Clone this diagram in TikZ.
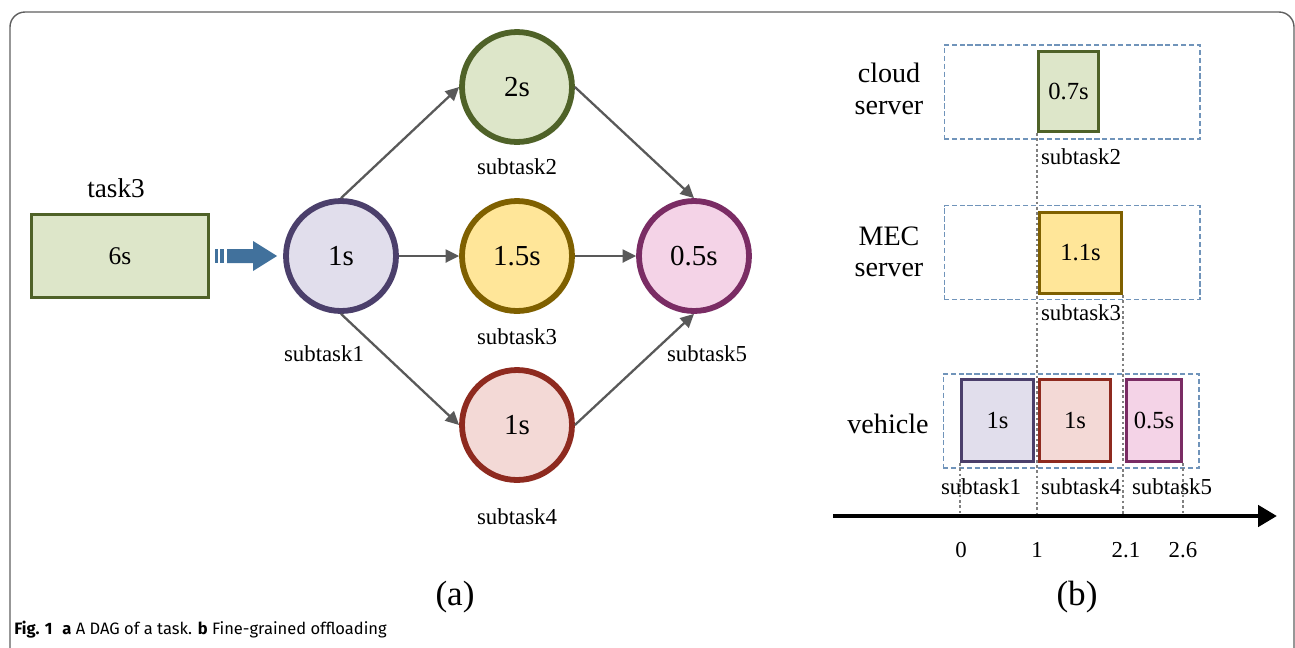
\documentclass[tikz,border=0pt]{standalone}
\usepackage{fontspec}
\setmainfont{Liberation Serif}
\newfontfamily\capfont{Fira Sans}
\usetikzlibrary{arrows.meta,positioning,calc}
\definecolor{olivedk}{HTML}{4F6228}
\definecolor{olivelt}{HTML}{DDE6C9}
\definecolor{purpdk}{HTML}{4B3F6B}
\definecolor{purplt}{HTML}{E1DEEC}
\definecolor{golddk}{HTML}{7F6000}
\definecolor{goldlt}{HTML}{FFE699}
\definecolor{reddk}{HTML}{8E2A1F}
\definecolor{redlt}{HTML}{F3D9D6}
\definecolor{pinkdk}{HTML}{7A2C64}
\definecolor{pinklt}{HTML}{F4D3E7}
\definecolor{edgegray}{HTML}{595959}
\definecolor{flowblue}{HTML}{41719C}
\definecolor{lanedash}{HTML}{7094BA}
\definecolor{framegray}{HTML}{5F5F5F}

\begin{document}
\begin{tikzpicture}[x=0.02cm, y=-0.02cm, >={Triangle[length=2.7mm,width=2.6mm]},
    sub-node/.style={circle, line width=3.3pt, minimum size=2.2cm, inner sep=0pt, font=\fontsize{16.5}{18}\selectfont},
    slot-node/.style={rectangle, line width=1.8pt, minimum height=1.62cm, inner sep=0pt, font=\fontsize{14}{16}\selectfont},
    lane-node/.style={rectangle, draw=lanedash, line width=0.6pt, dash pattern=on 3pt off 1.5pt, minimum width=5.12cm, minimum height=1.88cm, inner sep=0pt},
    name-text/.style={font=\fontsize{13}{15}\selectfont, inner sep=1pt},
    row-text/.style={font=\fontsize{16}{18}\selectfont, align=center},
    edge/.style={->, draw=edgegray, line width=1.3pt},
    guide/.style={draw=gray, line width=0.9pt, dash pattern=on 1.5pt off 1.5pt}]
    \useasboundingbox (0,0) rectangle (1295,647);
    \draw[framegray, line width=0.8pt, rounded corners=0.3cm] (10,700) -- (10,12) -- (1294,12) -- (1294,700);

    % (a) the DAG
    \node[rectangle, draw=olivedk, fill=olivelt, line width=1.8pt, minimum width=3.54cm, minimum height=1.66cm, font=\fontsize{14.5}{16}\selectfont] (task) at (120,256) {6s};
    \node[font=\fontsize{15.5}{17}\selectfont] (tasklbl) at (116,188) {task3};
    \node[sub-node, draw=purpdk, fill=purplt] (sub1) at (341,256) {1s};
    \node[sub-node, draw=olivedk, fill=olivelt] (sub2) at (517,87) {2s};
    \node[sub-node, draw=golddk, fill=goldlt] (sub3) at (517,256) {1.5s};
    \node[sub-node, draw=reddk, fill=redlt] (sub4) at (517,425) {1s};
    \node[sub-node, draw=pinkdk, fill=pinklt] (sub5) at (694,256) {0.5s};
    \node[name-text] (sub1lbl) at (324,354) {subtask1};
    \node[name-text] (sub2lbl) at (517,167) {subtask2};
    \node[name-text] (sub3lbl) at (517,337) {subtask3};
    \node[name-text] (sub4lbl) at (517,517) {subtask4};
    \node[name-text] (sub5lbl) at (707,354) {subtask5};
    % block arrow into subtask1
    \fill[flowblue] ($(task.east)+(5,-7)$) rectangle ++(3,14);
    \fill[flowblue] ($(task.east)+(10,-7)$) rectangle ++(4,14);
    \fill[flowblue] ($(task.east)+(17,-7)$) -- ++(26,0) -- ++(0,-8) -- ++(24,15) -- ++(-24,15) -- ++(0,-8) -- ++(-26,0) -- cycle;
    \draw[edge] (sub1.north) -- (sub2.west);
    \draw[edge] (sub1) -- (sub3);
    \draw[edge] (sub1.south) -- (sub4.west);
    \draw[edge] (sub2.east) -- (sub5.north);
    \draw[edge] (sub3) -- (sub5);
    \draw[edge] (sub4.east) -- (sub5.south);
    \node[font=\fontsize{20}{22}\selectfont] (capa) at (455,597) {(a)};

    % (b) offloading schedule
    \node[lane-node] (cloudlane) at (1072,92) {};
    \node[lane-node] (meclane) at (1072,252.5) {};
    \node[lane-node] (vehlane) at (1071,421) {};
    \node[row-text] (cloudlbl) at (889,89) {cloud\\server};
    \node[row-text] (meclbl) at (889,252) {MEC\\server};
    \node[row-text] (vehlbl) at (888,424) {vehicle};
    \coordinate (axis-start) at (833,516);
    \coordinate (axis-end) at (1277,516);
    \node[slot-node, draw=olivedk, fill=olivelt, minimum width=1.2cm, minimum height=1.6cm] (cloud2) at (1068.5,91.5) {0.7s};
    \node[slot-node, draw=golddk, fill=goldlt, minimum width=1.64cm] (mec3) at (1080.5,253) {1.1s};
    \node[slot-node, draw=purpdk, fill=purplt, minimum width=1.44cm, minimum height=1.64cm] (veh1) at (997.5,420.5) {1s};
    \node[slot-node, draw=reddk, fill=redlt, minimum width=1.42cm, minimum height=1.64cm] (veh4) at (1075,420.5) {1s};
    \node[slot-node, draw=pinkdk, fill=pinklt, minimum width=1.1cm, minimum height=1.64cm] (veh5) at (1154,420.5) {0.5s};
    \draw[guide] (cloud2.south west) -- (cloud2.south west |- axis-start);
    \draw[guide] (mec3.south east) -- (mec3.south east |- axis-start);
    \draw[guide] (veh1.south west) -- (veh1.south west |- axis-start);
    \draw[guide] (veh5.south east) -- (veh5.south east |- axis-start);
    \node[name-text] (cloud2lbl) at (1081,157) {subtask2};
    \node[name-text] (mec3lbl) at (1081,313) {subtask3};
    \node[name-text] (veh1lbl) at (981,487) {subtask1};
    \node[name-text] (veh4lbl) at (1081,487) {subtask4};
    \node[name-text] (veh5lbl) at (1172,487) {subtask5};
    \draw[line width=2.8pt, -{Triangle[length=0.38cm,width=0.42cm]}] (axis-start) -- (axis-end);
    \node[name-text] (tick0) at (961,550) {0};
    \node[name-text] (tick1) at (1037,550) {1};
    \node[name-text] (tick2) at (1126,550) {2.1};
    \node[name-text] (tick3) at (1183,550) {2.6};
    \node[font=\fontsize{20}{22}\selectfont] (capb) at (1077,597) {(b)};

    \node[anchor=base west, inner sep=0pt, font=\capfont\fontsize{9.4}{11}\selectfont] (caption) at (14,634) {\textbf{Fig. 1}\hspace{0.6em}\textbf{a} A DAG of a task. \textbf{b} Fine-grained offloading};
\end{tikzpicture}
\end{document}
